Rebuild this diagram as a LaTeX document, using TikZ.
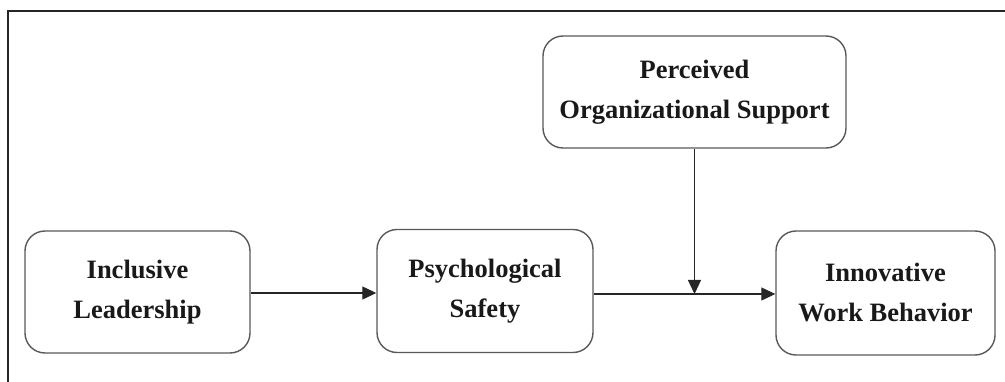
\documentclass[tikz,border=0pt]{standalone}
\usepackage{fontspec}
\setmainfont{Liberation Serif}
\usetikzlibrary{arrows.meta}
\begin{document}
\begin{tikzpicture}[x=1pt,y=-1pt,
  box/.style={draw=black!65, line width=1.4pt, rounded corners=20pt, align=center,
    font=\fontsize{26.5}{40}\selectfont\bfseries, text=black!90, inner sep=0pt},
  conn/.style={draw=black!85, line width=1.2pt, -{Triangle[length=14pt,width=13pt]}},
  frame/.style={draw=black!85, line width=2pt}]
\useasboundingbox (0,0) rectangle (1005,382);
\draw[frame] (8,382) -- (8,11) -- (1005,11);
\node[box, minimum width=225pt, minimum height=122pt] (IL) at (137.5,292) {Inclusive\\Leadership};
\node[box, minimum width=216pt, minimum height=123pt] (PS) at (485,291) {Psychological\\Safety};
\node[box, minimum width=219pt, minimum height=124pt] (IWB) at (885.5,293) {Innovative\\Work Behavior};
\node[box, minimum width=303pt, minimum height=112pt] (POS) at (694.5,92) {Perceived\\Organizational Support};
\coordinate (a1) at (IL.east |- 0,293);
\coordinate (b1) at (PS.west |- 0,293);
\coordinate (a2) at (PS.east |- 0,294);
\coordinate (b2) at (IWB.west |- 0,294);
\coordinate (m) at (POS.south |- 0,294);
\draw[conn] (a1) -- (b1);
\draw[conn] (a2) -- (b2);
\draw[conn] (POS.south) -- (m);
\end{tikzpicture}
\end{document}
